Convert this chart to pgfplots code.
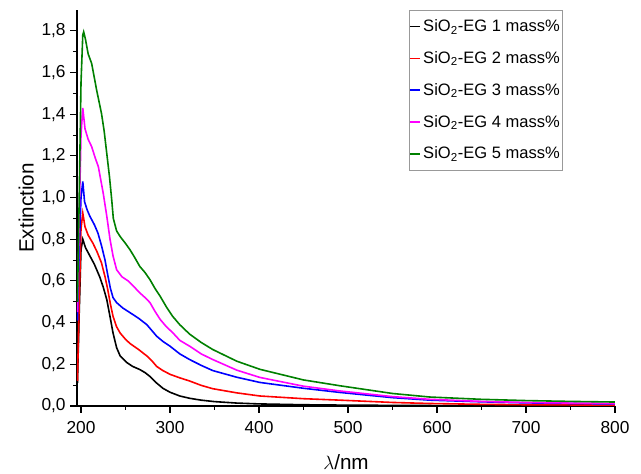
\documentclass[border=0pt]{standalone}
\usepackage{pgfplots}
\pgfplotsset{compat=1.18}
\usepackage{fontspec}
\setmainfont{Liberation Sans}

\definecolor{lnred}{HTML}{FF0000}
\definecolor{lnblue}{HTML}{0000FF}
\definecolor{lnmag}{HTML}{FF00FF}
\definecolor{lngreen}{HTML}{008000}

\begin{document}
\begin{tikzpicture}
\begin{axis}[
    scale only axis,
    width=403.5pt,
    height=297pt,
    xmin=195.5, xmax=800,
    ymin=0, ymax=1.9,
    axis x line*=bottom,
    axis y line*=left,
    axis line style={-, line width=0.9pt},
    xtick={200,300,...,800},
    ytick={0,0.2,...,1.81},
    minor x tick num=1,
    minor y tick num=1,
    tick align=outside,
    major tick length=5pt,
    minor tick length=3pt,
    tick style={line width=0.8pt, black},
    tick label style={font=\fontsize{13}{15}\selectfont},
    /pgf/number format/assume math mode=true,
    yticklabel style={/pgf/number format/.cd, use comma, fixed, fixed zerofill, precision=1},
    xticklabel style={yshift=-3pt, /pgf/number format/.cd, fixed, 1000 sep={}},
    xlabel={$\lambda$/nm},
    ylabel={Extinction},
    label style={font=\fontsize{15.5}{17}\selectfont},
    xlabel style={yshift=-9pt},
    ylabel style={yshift=-1pt},
    legend cell align={left},
    legend style={at={(0.903,1)}, anchor=north east, draw=gray!80,
        font=\fontsize{12.4}{14}\selectfont, row sep=9.4pt, inner xsep=0pt, inner ysep=5pt,
        /tikz/every even column/.append style={column sep=2pt}},
    legend image code/.code={\draw[#1, line width=1.3pt] (0pt,0pt) -- (7pt,0pt);},
    every axis plot/.append style={line width=1.2pt, mark=none},
]
\addplot[black] coordinates {
(196,0.11) (198,0.45) (200,0.75) (202,0.80) (205,0.76) (210,0.72) (215,0.68) (221,0.62)
(225,0.57) (229,0.51) (233,0.42) (236,0.35) (240,0.28) (244,0.24) (251,0.21) (258,0.19)
(266,0.175) (272,0.16) (278,0.14) (285,0.11) (292,0.085) (300,0.066) (311,0.048) (322,0.037)
(335,0.028) (350,0.021) (375,0.014) (400,0.01) (450,0.006) (500,0.004) (600,0.002)
(700,0.001) (800,0.001)
};
\addlegendentry{SiO\textsubscript{2}-EG 1 mass\%}
\addplot[lnred] coordinates {
(196,0.12) (198,0.5) (200,0.85) (202,0.925) (204.5,0.86) (208,0.82) (213.5,0.78) (218,0.74)
(223,0.687) (227,0.62) (230,0.56) (233,0.49) (236,0.43) (240,0.38) (244,0.35) (250,0.32)
(255,0.30) (265,0.27) (274,0.24) (280,0.215) (285,0.19) (292,0.17) (300,0.152) (311,0.135)
(322,0.12) (335,0.099) (348,0.083) (375,0.063) (401,0.048) (450,0.035) (491,0.028)
(550,0.017) (592,0.012) (650,0.008) (700,0.006) (750,0.005) (800,0.004)
};
\addlegendentry{SiO\textsubscript{2}-EG 2 mass\%}
\addplot[lnblue] coordinates {
(196,0.41) (198,0.75) (200,1.0) (202,1.077) (204,0.98) (207,0.94) (210,0.91) (215,0.87)
(219,0.83) (223,0.77) (227,0.70) (230,0.63) (233,0.565) (236,0.52) (240,0.496) (247,0.47)
(255,0.448) (265,0.42) (274,0.39) (280,0.36) (285,0.335) (292,0.31) (300,0.287) (311,0.25)
(322,0.223) (335,0.195) (348,0.17) (375,0.138) (401,0.113) (450,0.085) (491,0.065)
(550,0.04) (592,0.028) (650,0.02) (700,0.015) (750,0.012) (800,0.01)
};
\addlegendentry{SiO\textsubscript{2}-EG 3 mass\%}
\addplot[lnmag] coordinates {
(196,0.45) (198,0.9) (200,1.3) (202,1.43) (204.5,1.33) (208,1.28) (212,1.244) (216,1.19)
(219.5,1.148) (225,1.02) (229,0.91) (232.6,0.80) (236,0.72) (240,0.654) (246,0.62) (253,0.60)
(260,0.57) (266,0.543) (272,0.52) (277.5,0.496) (283,0.455) (289,0.415) (296,0.38) (303,0.352)
(311,0.315) (322,0.287) (335,0.25) (348,0.223) (375,0.172) (401,0.137) (450,0.095)
(491,0.072) (550,0.045) (592,0.032) (650,0.022) (700,0.017) (750,0.014) (800,0.012)
};
\addlegendentry{SiO\textsubscript{2}-EG 4 mass\%}
\addplot[lngreen] coordinates {
(196,0.5) (198,1.0) (200,1.55) (202,1.78) (203,1.795) (205,1.76) (208,1.69) (212,1.643)
(217.6,1.515) (223,1.404) (226,1.32) (229,1.21) (232,1.10) (234.5,0.99) (236.3,0.90) (240,0.84)
(244,0.813) (250,0.78) (255,0.75) (260,0.715) (266,0.67) (272,0.64) (277.5,0.606) (283,0.565)
(289,0.526) (296,0.475) (303,0.43) (311,0.39) (322,0.345) (335,0.305) (348,0.271)
(375,0.215) (401,0.176) (450,0.125) (491,0.097) (550,0.06) (592,0.043) (650,0.032)
(700,0.026) (750,0.022) (800,0.019)
};
\addlegendentry{SiO\textsubscript{2}-EG 5 mass\%}
\end{axis}
\pgfresetboundingbox
\path ([shift={(-57.75pt,-51pt)}]current axis.south west)
      rectangle ([shift={(19.5pt,7.5pt)}]current axis.north east);
\end{tikzpicture}
\end{document}
